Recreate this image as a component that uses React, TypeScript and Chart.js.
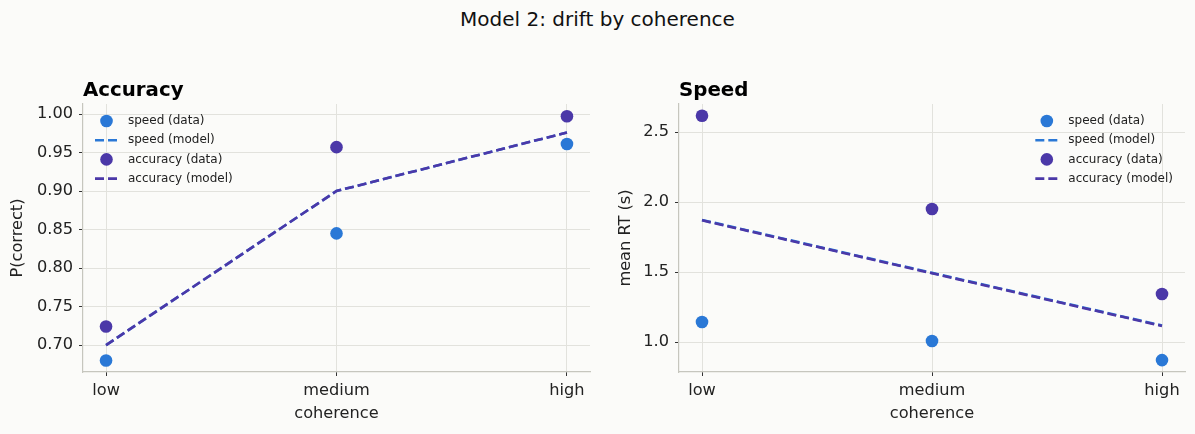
import React, { useEffect, useRef } from 'react'
import { Chart, registerables } from 'chart.js'

Chart.register(...registerables)

const categories = ['low', 'medium', 'high']

const accSpeedData = [0.68, 0.845, 0.961]
const accSpeedModel = [0.70, 0.90, 0.976]
const accAccuracyData = [0.724, 0.957, 0.997]
const accAccuracyModel = [0.70, 0.90, 0.976]
const accTicks = [0.7, 0.75, 0.8, 0.85, 0.9, 0.95, 1.0]

const rtSpeedData = [1.143, 1.007, 0.871]
const rtSpeedModel = [1.872, 1.494, 1.118]
const rtAccuracyData = [2.616, 1.95, 1.343]
const rtAccuracyModel = [1.869, 1.491, 1.115]
const rtTicks = [1.0, 1.5, 2.0, 2.5]

const SPEED = '#2a78d6'
const ACCURACY = '#4b38a8'
const BG = '#fbfbf9'
const GRID = '#e2e2dd'
const SPINE = '#c6c6be'
const FONT = '"DejaVu Sans", sans-serif'
const TICK_SIZE = 16.2

const legendItems = [
  { label: 'speed (data)', color: SPEED, kind: 'point' },
  { label: 'speed (model)', color: SPEED, kind: 'line' },
  { label: 'accuracy (data)', color: ACCURACY, kind: 'point' },
  { label: 'accuracy (model)', color: ACCURACY, kind: 'line' },
]

const toPoints = (vals: number[]) => vals.map((y, i) => ({ x: i, y }))

// panel title + legend drawn inside the axes, matplotlib style
const panelDecor = {
  id: 'panelDecor',
  afterDraw(chart: any, _args: any, opts: any) {
    const { ctx, chartArea } = chart
    ctx.save()
    ctx.fillStyle = '#000'
    ctx.font = `bold 19.8px ${FONT}`
    ctx.textBaseline = 'alphabetic'
    ctx.textAlign = 'left'
    ctx.fillText(opts.title, chartArea.left, 96)

    ctx.font = `12px ${FONT}`
    ctx.textBaseline = 'middle'
    const widths = legendItems.map((it) => ctx.measureText(it.label).width)
    const maxW = Math.max(...widths)
    const textX = opts.side === 'right' ? chartArea.right - 12 - maxW : chartArea.left + 45
    const lineX0 = textX - 33
    const rowY0 = 121
    const rowH = 19.2
    legendItems.forEach((it, i) => {
      const y = rowY0 + i * rowH
      if (it.kind === 'point') {
        ctx.fillStyle = it.color
        ctx.beginPath()
        ctx.arc(lineX0 + 11.5, y, 6.3, 0, Math.PI * 2)
        ctx.fill()
      } else {
        ctx.strokeStyle = it.color
        ctx.lineWidth = 2.6
        ctx.setLineDash([9, 4])
        ctx.beginPath()
        ctx.moveTo(lineX0, y)
        ctx.lineTo(lineX0 + 23, y)
        ctx.stroke()
        ctx.setLineDash([])
      }
      ctx.fillStyle = '#222'
      ctx.fillText(it.label, textX, y)
    })
    ctx.restore()
  },
}

type PanelProps = {
  title: string
  side: 'left' | 'right'
  yLabel: string
  yMin: number
  yMax: number
  yTicks: number[]
  decimals: number
  axisWidth: number
  titlePad: number
  padRight: number
  speedData: number[]
  speedModel: number[]
  accData: number[]
  accModel: number[]
}

const Panel = (p: PanelProps) => {
  const ref = useRef<HTMLCanvasElement>(null)

  useEffect(() => {
    if (!ref.current) return
    const ctx = ref.current.getContext('2d')
    if (!ctx) return

    const chart = new Chart(ctx, {
      type: 'scatter',
      data: {
        datasets: [
          {
            label: 'speed (data)',
            data: toPoints(p.speedData),
            backgroundColor: SPEED,
            borderWidth: 0,
            pointRadius: 6.3,
            showLine: false,
            order: 3,
          },
          {
            label: 'speed (model)',
            data: toPoints(p.speedModel),
            borderColor: SPEED,
            borderWidth: 2.6,
            borderDash: [9, 4],
            pointRadius: 0,
            showLine: true,
            order: 1,
          },
          {
            label: 'accuracy (data)',
            data: toPoints(p.accData),
            backgroundColor: ACCURACY,
            borderWidth: 0,
            pointRadius: 6.3,
            showLine: false,
            order: 2,
          },
          {
            label: 'accuracy (model)',
            data: toPoints(p.accModel),
            borderColor: ACCURACY,
            borderWidth: 2.6,
            borderDash: [9, 4],
            pointRadius: 0,
            showLine: true,
            order: 0,
          },
        ],
      },
      options: {
        animation: false,
        responsive: false,
        maintainAspectRatio: false,
        events: [],
        layout: { padding: { top: 104, right: p.padRight, bottom: 0, left: 0 } },
        plugins: {
          legend: { display: false },
          tooltip: { enabled: false },
          panelDecor: { title: p.title, side: p.side },
        } as any,
        scales: {
          x: {
            type: 'linear',
            min: -0.1,
            max: 2.1,
            afterBuildTicks: (s: any) => {
              s.ticks = categories.map((_, i) => ({ value: i }))
            },
            afterFit: (s: any) => {
              s.height = 62
            },
            grid: { color: GRID, tickColor: '#333', tickLength: 4, lineWidth: 1 },
            border: { color: SPINE, width: 1.2 },
            ticks: {
              autoSkip: false,
              maxRotation: 0,
              padding: 5,
              color: '#222',
              font: { family: FONT, size: TICK_SIZE },
              callback: (v: any) => categories[v] ?? '',
            },
            title: {
              display: true,
              text: 'coherence',
              color: '#222',
              font: { family: FONT, size: TICK_SIZE },
              padding: { top: 0, bottom: 10 },
            },
          },
          y: {
            type: 'linear',
            min: p.yMin,
            max: p.yMax,
            afterBuildTicks: (s: any) => {
              s.ticks = p.yTicks.map((v) => ({ value: v }))
            },
            afterFit: (s: any) => {
              s.width = p.axisWidth
            },
            grid: { color: GRID, tickColor: '#333', tickLength: 4, lineWidth: 1 },
            border: { color: SPINE, width: 1.2 },
            ticks: {
              padding: 6,
              color: '#222',
              font: { family: FONT, size: TICK_SIZE },
              callback: (v: any) => Number(v).toFixed(p.decimals),
            },
            title: {
              display: true,
              text: p.yLabel,
              color: '#222',
              font: { family: FONT, size: TICK_SIZE },
              padding: { top: p.titlePad, bottom: 0 },
            },
          },
        },
      },
      plugins: [panelDecor],
    })

    return () => {
      chart.destroy()
    }
  }, [])

  return <canvas ref={ref} width={p.side === 'left' ? 597 : 598} height={434} />
}

const App = () => {
  return (
    <div
      style={{
        position: 'fixed',
        left: 0,
        top: 0,
        width: 1195,
        height: 434,
        background: BG,
        overflow: 'hidden',
      }}
    >
      <div
        style={{
          position: 'absolute',
          left: 0,
          top: 9,
          width: 1195,
          textAlign: 'center',
          fontFamily: FONT,
          fontSize: 20,
          lineHeight: '20px',
          color: '#111',
        }}
      >
        Model 2: drift by coherence
      </div>
      <div style={{ position: 'absolute', left: 0, top: 0 }}>
        <Panel
          title="Accuracy"
          side="left"
          yLabel="P(correct)"
          yMin={0.665}
          yMax={1.013}
          yTicks={accTicks}
          decimals={2}
          axisWidth={83}
          titlePad={8}
          padRight={7}
          speedData={accSpeedData}
          speedModel={accSpeedModel}
          accData={accAccuracyData}
          accModel={accAccuracyModel}
        />
      </div>
      <div style={{ position: 'absolute', left: 597, top: 0 }}>
        <Panel
          title="Speed"
          side="right"
          yLabel="mean RT (s)"
          yMin={0.786}
          yMax={2.7}
          yTicks={rtTicks}
          decimals={1}
          axisWidth={82}
          titlePad={19}
          padRight={10}
          speedData={rtSpeedData}
          speedModel={rtSpeedModel}
          accData={rtAccuracyData}
          accModel={rtAccuracyModel}
        />
      </div>
    </div>
  )
}

export default App
